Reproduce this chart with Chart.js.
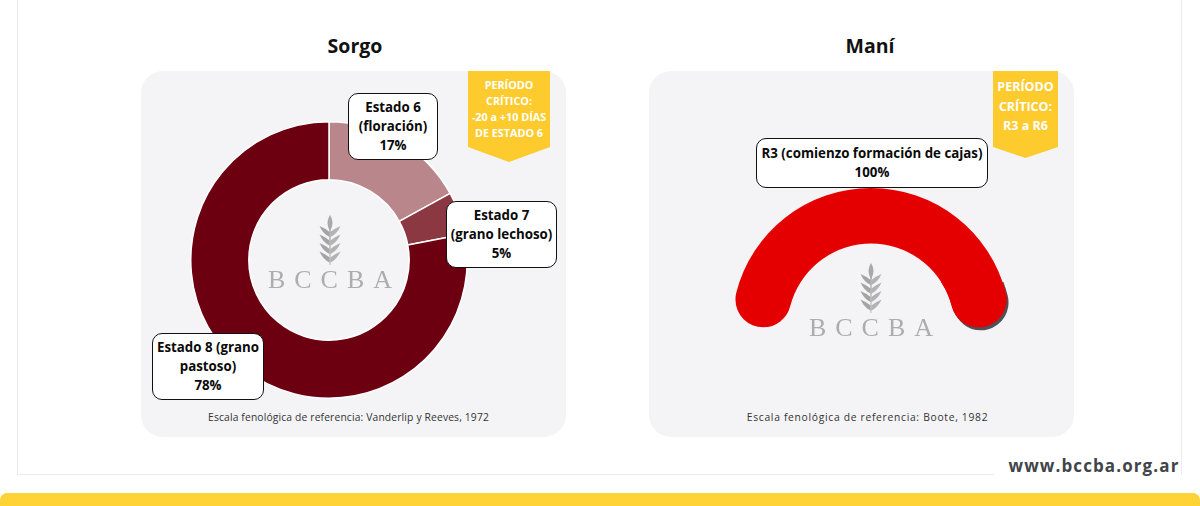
<!DOCTYPE html>
<html>
<head>
<meta charset="utf-8">
<script src="https://cdn.jsdelivr.net/npm/chart.js@4.4.0/dist/chart.umd.min.js"></script>
<style>
  html, body { margin: 0; padding: 0; }
  body { width: 1200px; height: 506px; position: relative; overflow: hidden; background: #fff; font-family: "Open Sans", sans-serif; }
  .abs { position: absolute; }
  .frame { left: 17px; top: -2px; width: 1165px; height: 477px; border: 1px solid #ebebef; border-top: none; box-sizing: border-box; }
  .url-mask { left: 994px; top: 470px; width: 187px; height: 8px; background: #fff; }
  .url { left: 995px; top: 454px; width: 198px; text-align: center; font-weight: 700; font-size: 17px; letter-spacing: 1.1px; color: #414449; }
  .bar { left: 0; top: 493px; width: 1200px; height: 20px; background: #ffd236; border-radius: 7px 7px 0 0; }
  .title { top: 32px; width: 300px; text-align: center; font-weight: 700; font-size: 19.5px; color: #111; }
  .panel { top: 71px; width: 425px; height: 366px; background: #f4f4f6; border-radius: 22px; }
  .badge { top: 71px; background: #fecb2e; color: #fff; font-weight: 700; text-align: center; box-sizing: border-box; }
  .note { top: 410px; width: 425px; text-align: center; font-size: 10.3px; color: #333; letter-spacing: 0.15px; }
  .lbl { background: #fff; border: 1px solid #111; border-radius: 10px; box-sizing: border-box; text-align: center; font-weight: 700; font-size: 13.3px; line-height: 19px; color: #0a0a0a; display: flex; flex-direction: column; justify-content: center; }
  .logo { text-align: center; }
  .logo .txt { font-family: "Liberation Serif", "DejaVu Serif", serif; font-size: 26px; color: #adadad; letter-spacing: 9px; margin-right: -9px; line-height: 26px; }
  canvas { position: absolute; }
</style>
</head>
<body>
<div class="abs frame"></div>
<div class="abs url-mask"></div>
<div class="abs url">www.bccba.org.ar</div>
<div class="abs bar"></div>

<div class="abs title" style="left:205px;">Sorgo</div>
<div class="abs title" style="left:720px;">Maní</div>

<div class="abs panel" style="left:141px;"></div>
<div class="abs panel" style="left:649px;"></div>

<canvas id="sorgo" width="278" height="278" style="left:190px; top:121px;"></canvas>
<canvas id="mani" width="278" height="145" style="left:732px; top:188px;"></canvas>

<div id="overlay"></div>

<script>
// datos
const sorgoLabels = [['Estado 6', '(floración)'], ['Estado 7', '(grano lechoso)'], ['Estado 8 (grano', 'pastoso)']];
const sorgoValues = [17, 5, 78];
const sorgoColors = ['#b9868b', '#8c3842', '#6c0011'];

const maniLabels = [['R3 (comienzo formación de cajas)']];
const maniValues = [100];
const maniColors = ['#e50000'];

const sorgoBadge = ['PERÍODO', 'CRÍTICO:', '-20 a +10 DÍAS', 'DE ESTADO 6'];
const maniBadge = ['PERÍODO', 'CRÍTICO:', 'R3 a R6'];
const sorgoNote = 'Escala fenológica de referencia: Vanderlip y Reeves, 1972';
const maniNote = 'Escala fenológica de referencia: Boote, 1982';

// cajas de etiquetas (posición de layout, px)
const sorgoBoxes = [
  { left: 348, top: 93, width: 90, height: 67 },
  { left: 446, top: 201, width: 111, height: 67 },
  { left: 152, top: 333, width: 112, height: 67 }
];
const maniBoxes = [{ left: 756, top: 138, width: 232, height: 50 }];

const overlay = document.getElementById('overlay');

function addDiv(cls, style, html) {
  const d = document.createElement('div');
  d.className = 'abs ' + cls;
  d.setAttribute('style', style);
  d.innerHTML = html;
  overlay.appendChild(d);
  return d;
}

const wheat =
  '<svg width="24" height="50" viewBox="0 0 24 50">' +
  '<path d="M12 0 C15 5 15.5 10 12 16 C8.5 10 9 5 12 0Z" fill="#a9a9a9"/>' +
  [0, 1, 2, 3].map(function (k) {
    const b = 22 + k * 8.5;
    return '<path d="M11.6 ' + b + ' Q5 ' + (b - 3) + ' 1.5 ' + (b - 11) + ' Q7.5 ' + (b - 8.5) + ' 11.6 ' + (b - 5) + 'Z" fill="#a4a4a4"/>' +
      '<path d="M12.4 ' + b + ' Q19 ' + (b - 3) + ' 22.5 ' + (b - 11) + ' Q16.5 ' + (b - 8.5) + ' 12.4 ' + (b - 5) + 'Z" fill="#b3b3b3"/>';
  }).join('') +
  '<path d="M11.3 14 L12.7 14 L12.4 50 L11.6 50Z" fill="#a9a9a9"/>' +
  '</svg>';

function addLogo(cx, top) {
  addDiv('logo', 'left:' + (cx - 80) + 'px; top:' + top + 'px; width:160px;',
    '<div style="height:52px">' + wheat + '</div><div class="txt">BCCBA</div>');
}

function addBadge(left, width, height, tip, fontSize, lineHeight, padTop, lines) {
  addDiv('badge',
    'left:' + left + 'px; width:' + width + 'px; height:' + height + 'px; font-size:' + fontSize + 'px; line-height:' + lineHeight + 'px; padding-top:' + padTop + 'px;' +
    'clip-path: polygon(0 0, 100% 0, 100% ' + (height - tip) + 'px, 50% 100%, 0 ' + (height - tip) + 'px);',
    lines.join('<br>'));
}

function addLabels(labels, values, boxes) {
  labels.forEach(function (lines, i) {
    const b = boxes[i];
    addDiv('lbl', 'left:' + b.left + 'px; top:' + b.top + 'px; width:' + b.width + 'px; height:' + b.height + 'px;',
      lines.map(function (t) { return '<div>' + t + '</div>'; }).join('') + '<div>' + values[i] + '%</div>');
  });
}

// sombra oscura en el extremo derecho del arco
const capShadow = {
  id: 'capShadow',
  beforeDatasetDraw(chart) {
    const arc = chart.getDatasetMeta(0).data[0];
    if (!arc) return;
    const ctx = chart.ctx;
    ctx.save();
    ctx.beginPath();
    ctx.rect(arc.x + 60, arc.y - 45, chart.width, chart.height);
    ctx.clip();
    ctx.shadowColor = '#4d5258';
    ctx.shadowOffsetX = 2;
    ctx.shadowOffsetY = 3;
    ctx.shadowBlur = 0;
    arc.draw(ctx);
    ctx.restore();
  }
};

addLogo(330, 215);
addLogo(871, 263);

const sorgoChart = new Chart(document.getElementById('sorgo'), {
  type: 'doughnut',
  data: {
    labels: sorgoLabels,
    datasets: [{ data: sorgoValues, backgroundColor: sorgoColors, borderColor: '#ffffff', borderWidth: 1.5 }]
  },
  options: {
    responsive: false,
    animation: false,
    cutout: '58%',
    layout: { padding: 0 },
    plugins: { legend: { display: false }, tooltip: { enabled: false } }
  }
});

const maniChart = new Chart(document.getElementById('mani'), {
  type: 'doughnut',
  data: {
    labels: maniLabels,
    datasets: [{ data: maniValues, backgroundColor: maniColors, borderWidth: 0, borderRadius: 28 }]
  },
  options: {
    responsive: false,
    animation: false,
    rotation: -90,
    circumference: 180,
    cutout: '60%',
    layout: { padding: { bottom: 6 } },
    plugins: { legend: { display: false }, tooltip: { enabled: false } }
  },
  plugins: [capShadow]
});

addLabels(sorgoLabels, sorgoValues, sorgoBoxes);
addLabels(maniLabels, maniValues, maniBoxes);

addBadge(468, 82, 91, 15, 10.8, 16, 6, sorgoBadge);
addBadge(993, 65, 87, 11, 12.5, 19.5, 6, maniBadge);

addDiv('note', 'left:136px;', sorgoNote);
addDiv('note', 'left:655px; letter-spacing:0.7px;', maniNote);
</script>
</body>
</html>
